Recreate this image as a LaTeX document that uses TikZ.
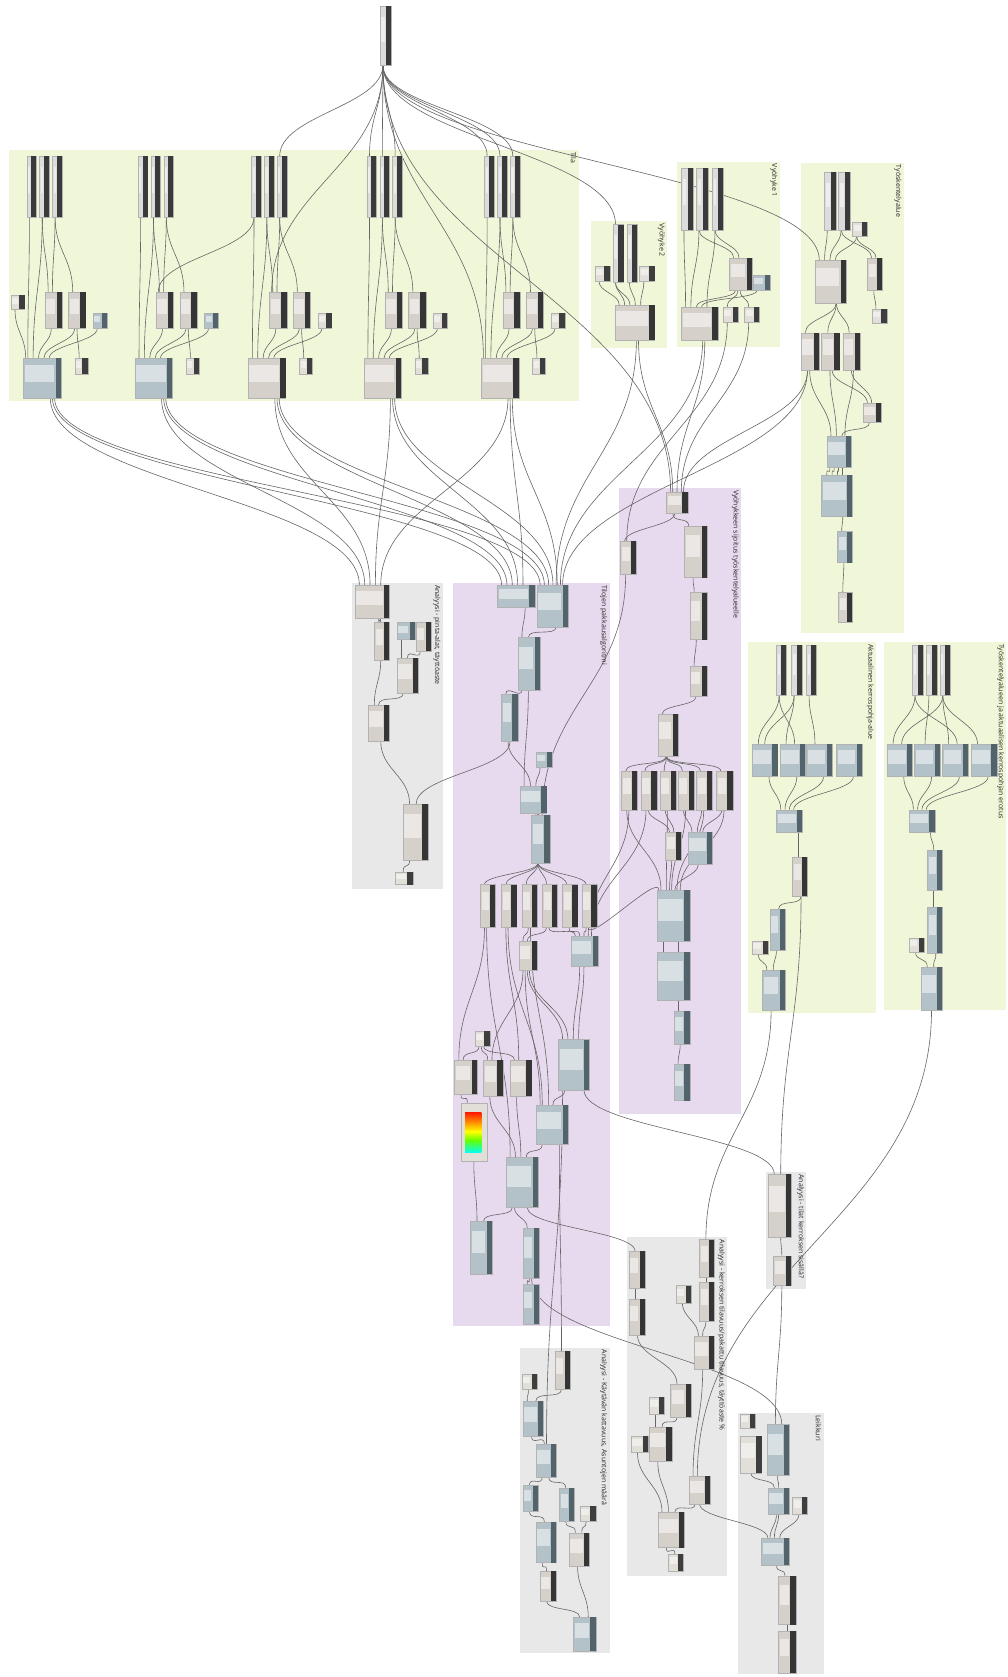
\documentclass[tikz,border=0pt]{standalone}
\usepackage{fontspec}
\setmainfont{Open Sans}
\usetikzlibrary{calc}
\pgfdeclarelayer{groups}
\pgfdeclarelayer{wires}
\pgfsetlayers{groups,wires,main}

% node palettes: body / header strip
\definecolor{slbody}{HTML}{DCDCDC}\definecolor{slhead}{HTML}{3A3A3A}
\definecolor{bnbody}{HTML}{D5D0C9}\definecolor{bnhead}{HTML}{353535}
\definecolor{gnbody}{HTML}{B3C2C8}\definecolor{gnhead}{HTML}{52636B}
\definecolor{lnbody}{HTML}{E2DED8}\definecolor{lnhead}{HTML}{3E3E3E}
% group backgrounds
\definecolor{grgreen}{HTML}{F0F7D8}
\definecolor{grpurple}{HTML}{E7D9EE}
\definecolor{grgray}{HTML}{E8E8E8}

\def\U{1.0701pt}

\tikzset{
  dnode/.style={draw=black!30, line width=0.25pt, inner sep=0pt, outer sep=0pt,
                anchor=north west, rectangle},
  wire/.style={draw=black!60, line width=0.6pt},
  gtitle/.style={font=\fontsize{7}{8}\selectfont, text=black!85, inner sep=0pt,
                 rotate=-90, anchor=north west}
}

% \dn{palette}{name}{x}{y}{w}{h}: node box with dark header strip on its right
\newcommand\dn[6]{%
  \pgfmathsetmacro\hwd{min(5,0.52*#5)}%
  \node[dnode, fill=#1body, minimum width=#5*\U, minimum height=#6*\U] (#2) at (#3,#4) {};
  \fill[#1head] ([xshift=-\hwd*\U]#2.north east) rectangle (#2.south east);
  \fill[white, opacity=0.5] ([xshift=1.2*\U, yshift=-0.18*#6*\U]#2.north west)
     rectangle ([xshift=-\hwd*\U-1.2*\U, yshift=0.4*#6*\U]#2.south east);
}

% \wire{from}{port offset}{to}{port offset}: output at bottom, input at top
\newcommand\wire[4]{%
  \draw[wire] let \p1=([xshift=(#2)*\U]#1.south west),
                  \p2=([xshift=(#4)*\U]#3.north west),
                  \n1={max(10,0.45*abs(\y1-\y2))} in
    (\p1) .. controls +(0pt,-\n1*1pt) and +(0pt,\n1*1pt) .. (\p2);
}

% \grp{colour}{x1}{y1}{x2}{y2}{title}
\newcommand\grp[6]{%
  \begin{pgfonlayer}{groups}\fill[#1] (#2,#3) rectangle (#4,#5);\end{pgfonlayer}
  \node[gtitle] at (#4-2,#3+2) {#6};
}

\begin{document}
\begin{tikzpicture}[x=1.0701pt,y=-1.0701pt]
\useasboundingbox (0,0) rectangle (942,1568);
\begin{pgfonlayer}{groups}\fill[white] (0,0) rectangle (942,1568);\end{pgfonlayer}

% ---------- groups ----------
\grp{grgreen}{8}{140}{541}{375}{Tila}
\grp{grgreen}{553}{207}{624}{325}{Vyöhyke 2}
\grp{grgreen}{633}{151}{729}{324}{Vyöhyke 1}
\grp{grgreen}{749}{152}{845}{592}{Työskentelyalue}
\grp{grgray}{329}{545}{414}{831}{Analyysi - pinta-alat, täyttöaste}
\grp{grpurple}{424}{545}{570}{1240}{Tilojen pakkausalgoritmi}
\grp{grpurple}{579}{456}{693}{1042}{Vyöhykkeen sijoitus työskentelyalueelle}
\grp{grgreen}{699}{600}{819}{947}{Aktuaalinen kerrospohja-alue}
\grp{grgreen}{827}{600}{941}{944}{Työskentelyalueen ja aktuaalisen kerrospohjan erotus}
\grp{grgray}{716}{1096}{754}{1205}{Analyysi - tilat kerroksen sisällä?}
\grp{grgray}{586}{1157}{680}{1474}{Analyysi - kerroksen tilavuus/pakattu tilavuus, täyttöaste \%}
\grp{grgray}{486}{1260}{570}{1546}{Analyysi - Käytävän kattavuus, Asuntojen määrä}
\grp{grgray}{690}{1321}{770}{1565}{Leikkuri}

% ---------- source ----------
\dn{sl}{T}{355}{6}{11}{55}

% ---------- Tila: five identical columns ----------
\foreach \X/\i/\k/\kc in {0/1/gn/gn,104/2/gn/gn,210/3/bn/ln,318/4/bn/ln,428/5/bn/ln}{
  \dn{sl}{c\i-t1}{25+\X}{146}{9}{57}
  \dn{sl}{c\i-t2}{37+\X}{146}{9}{57}
  \dn{sl}{c\i-t3}{49+\X}{146}{9}{57}
  \dn{bn}{c\i-A}{42+\X}{273}{16}{34}
  \dn{bn}{c\i-B}{64+\X}{273}{16}{34}
  \dn{\kc}{c\i-C}{87+\X}{293}{13}{14}
  \dn{\k}{c\i-D}{22+\X}{335}{35}{37}
  \dn{ln}{c\i-E}{70+\X}{335}{12}{15}
}
\dn{ln}{c1-S}{10}{276}{13}{13}

% ---------- Vyöhyke 2 ----------
\dn{sl}{vt1}{573}{210}{10}{54}
\dn{sl}{vt2}{586}{210}{10}{54}
\dn{ln}{vs1}{556}{249}{14}{14}
\dn{ln}{vs2}{598}{249}{14}{14}
\dn{bn}{vbig}{575}{285}{37}{33}

% ---------- Vyöhyke 1 ----------
\dn{sl}{wt1}{637}{157}{11}{58}
\dn{sl}{wt2}{651}{157}{11}{58}
\dn{sl}{wt3}{666}{157}{10}{58}
\dn{bn}{wm1}{682}{241}{21}{30}
\dn{gn}{wm2}{704}{257}{16}{14}
\dn{bn}{wbig}{637}{287}{34}{31}
\dn{ln}{ws3}{676}{287}{14}{14}
\dn{ln}{ws4}{696}{287}{14}{14}

% ---------- Työskentelyalue ----------
\dn{sl}{yt1}{771}{161}{11}{54}
\dn{sl}{yt2}{784}{161}{11}{54}
\dn{ln}{ys1}{797}{208}{14}{13}
\dn{bn}{ybig}{762}{243}{29}{40}
\dn{bn}{ym1}{811}{241}{14}{30}
\dn{ln}{ys2}{815}{289}{14}{13}
\dn{bn}{yr1}{749}{311}{17}{35}
\dn{bn}{yr2}{768}{311}{17}{35}
\dn{bn}{yr3}{788}{311}{16}{35}
\dn{bn}{ym2}{807}{377}{17}{18}
\dn{gn}{yb2}{773}{408}{23}{29}
\dn{gn}{yb3}{768}{444}{29}{39}
\dn{gn}{yb4}{783}{497}{14}{29}
\dn{bn}{yb5}{784}{554}{13}{28}

% ---------- Vyöhykkeen sijoitus ----------
\dn{bn}{v1}{623}{460}{20}{20}
\dn{bn}{v2}{580}{506}{15}{31}
\dn{bn}{v3}{640}{492}{21}{48}
\dn{bn}{v4}{645}{554}{16}{44}
\dn{bn}{v5}{645}{623}{16}{28}
\dn{bn}{v6}{615}{668}{19}{39}
\foreach \j/\xx in {1/581,2/599,3/617,4/634,5/651,6/670}{
  \dn{bn}{vr\j}{\xx}{721}{15}{36}
}
\dn{bn}{v7}{622}{778}{15}{26}
\dn{gn}{v8}{643}{778}{23}{30}
\dn{gn}{v9}{614}{832}{31}{48}
\dn{gn}{v10}{614}{890}{31}{45}
\dn{gn}{v11}{630}{945}{15}{31}
\dn{gn}{v12}{630}{995}{15}{34}

% ---------- Tilojen pakkausalgoritmi ----------
\dn{gn}{pp1}{465}{547}{35}{21}
\dn{gn}{pp2}{502}{547}{29}{39}
\dn{gn}{pp3}{484}{596}{21}{49}
\dn{gn}{pp4}{469}{649}{15}{44}
\dn{gn}{pp5}{501}{703}{15}{14}
\dn{gn}{pp6}{486}{735}{25}{25}
\dn{gn}{pp7}{497}{762}{17}{45}
\foreach \j/\xx in {1/449,2/469,3/488,4/507,5/526,6/544}{
  \dn{bn}{pr\j}{\xx}{827}{14}{40}
}
\dn{bn}{q1}{485}{880}{17}{27}
\dn{gn}{q2}{534}{875}{25}{28}
\dn{ln}{q3}{444}{964}{14}{14}
\dn{bn}{q4}{425}{991}{21}{32}
\dn{bn}{q5}{452}{991}{18}{34}
\dn{bn}{q6}{477}{991}{20}{34}
\dn{gn}{q7}{522}{972}{29}{47}
\node[dnode, fill=lnbody, minimum width=24*\U, minimum height=55*\U] (grad) at (431,1031) {};
\shade[top color=red!80!orange, bottom color=yellow] (435,1040) rectangle (450,1058);
\shade[top color=yellow, bottom color=green!60!yellow] (435,1058) rectangle (450,1066);
\shade[top color=green!60!yellow, bottom color=cyan] (435,1066) rectangle (450,1078);
\dn{gn}{q8}{501}{1033}{30}{37}
\dn{gn}{q9}{473}{1082}{30}{47}
\dn{gn}{q10}{440}{1142}{20}{49}
\dn{gn}{q11}{489}{1148}{15}{47}
\dn{gn}{q12}{489}{1201}{15}{37}

% ---------- Analyysi - pinta-alat ----------
\dn{bn}{pa1}{332}{547}{32}{31}
\dn{bn}{pa2}{350}{582}{14}{35}
\dn{gn}{pa3}{371}{582}{17}{16}
\dn{bn}{pa4}{389}{582}{14}{27}
\dn{bn}{pa5}{371}{615}{20}{33}
\dn{bn}{pa6}{344}{659}{20}{34}
\dn{bn}{pa7}{377}{752}{23}{52}
\dn{ln}{pa8}{369}{815}{17}{12}

% ---------- Aktuaalinen kerrospohja-alue ----------
\dn{sl}{k1}{726}{603}{9}{47}
\dn{sl}{k2}{740}{603}{10}{47}
\dn{sl}{k3}{754}{603}{9}{47}
\foreach \j/\xx in {1/703,2/729,3/754,4/782}{
  \dn{gn}{kb\j}{\xx}{696}{24}{30}
}
\dn{gn}{kc}{726}{757}{24}{21}
\dn{bn}{kd}{741}{801}{14}{37}
\dn{gn}{ke}{720}{850}{14}{38}
\dn{ln}{kf}{703}{880}{15}{12}
\dn{gn}{kg}{713}{907}{21}{37}

% ---------- Erotus ----------
\dn{sl}{j1}{853}{603}{10}{47}
\dn{sl}{j2}{866}{603}{10}{47}
\dn{sl}{j3}{879}{603}{9}{47}
\foreach \j/\xx in {1/829,2/855,3/881,4/908}{
  \dn{gn}{jb\j}{\xx}{696}{24}{30}
}
\dn{gn}{jc}{850}{757}{24}{21}
\dn{gn}{jd}{867}{795}{14}{37}
\dn{gn}{je}{867}{848}{14}{43}
\dn{ln}{jf}{850}{877}{14}{13}
\dn{gn}{jg}{861}{904}{20}{40}

% ---------- Analyysi - tilat ----------
\dn{bn}{tl1}{718}{1098}{22}{59}
\dn{bn}{tl2}{723}{1174}{17}{28}

% ---------- Analyysi - kerroksen tilavuus ----------
\dn{bn}{n1}{588}{1170}{15}{34}
\dn{bn}{n2}{588}{1215}{15}{33}
\dn{bn}{n3}{654}{1159}{14}{35}
\dn{bn}{n4}{654}{1199}{14}{36}
\dn{ln}{n5}{632}{1202}{14}{16}
\dn{bn}{n6}{649}{1249}{19}{31}
\dn{bn}{n7}{627}{1294}{19}{31}
\dn{ln}{n8}{607}{1306}{14}{16}
\dn{bn}{n9}{607}{1334}{21}{32}
\dn{ln}{n10}{590}{1343}{16}{15}
\dn{bn}{n11}{644}{1380}{20}{26}
\dn{bn}{n12}{615}{1414}{25}{33}
\dn{ln}{n13}{625}{1453}{14}{16}

% ---------- Analyysi - Käytävän kattavuus ----------
\dn{bn}{kk1}{519}{1263}{14}{36}
\dn{ln}{kk2}{488}{1285}{14}{14}
\dn{gn}{kk3}{489}{1310}{19}{33}
\dn{gn}{kk4}{501}{1350}{19}{31}
\dn{gn}{kk5}{489}{1389}{14}{24}
\dn{gn}{kk6}{523}{1391}{14}{31}
\dn{ln}{kk7}{542}{1408}{15}{14}
\dn{gn}{kk8}{501}{1423}{19}{38}
\dn{bn}{kk9}{532}{1433}{19}{31}
\dn{bn}{kk10}{505}{1469}{15}{28}
\dn{gn}{kk11}{536}{1512}{21}{32}

% ---------- Leikkuri ----------
\dn{ln}{L1}{692}{1322}{14}{13}
\dn{ln}{L2}{692}{1343}{20}{34}
\dn{gn}{L3}{717}{1332}{21}{47}
\dn{gn}{L4}{718}{1391}{20}{25}
\dn{ln}{L5}{741}{1400}{14}{16}
\dn{gn}{L6}{712}{1438}{26}{25}
\dn{bn}{L7}{728}{1474}{16}{45}
\dn{bn}{L8}{728}{1525}{16}{39}

% ================= connectors =================
\begin{pgfonlayer}{wires}
% Tila columns
\foreach \i in {1,...,5}{
  \wire{c\i-t1}{2.5}{c\i-D}{4}
  \wire{c\i-t2}{2.5}{c\i-D}{9}
  \wire{c\i-t2}{2.5}{c\i-A}{3}
  \wire{c\i-t3}{2.5}{c\i-A}{7}
  \wire{c\i-t3}{2.5}{c\i-B}{4}
  \wire{c\i-A}{6}{c\i-D}{14}
  \wire{c\i-B}{6}{c\i-D}{19}
  \wire{c\i-C}{4}{c\i-D}{24}
  \wire{c\i-B}{8}{c\i-E}{4}
  \wire{c\i-D}{25}{pa1}{4+5*(\i-1)}
  \wire{c\i-D}{27}{pp1}{4+5*(\i-1)}
  \wire{c\i-D}{29}{pp2}{3+4*(\i-1)}
}
\wire{c1-S}{4}{c1-D}{2}
% source fan
\wire{T}{3}{c3-t3}{2.5}
\wire{T}{3}{c3-A}{2}
\wire{c3-t1}{2.5}{c2-A}{2}
\wire{T}{3}{c4-t1}{2.5}
\wire{T}{3}{c4-t2}{2.5}
\wire{T}{3}{c4-t3}{2.5}
\wire{T}{3}{c5-t1}{2.5}
\wire{T}{3}{c5-t2}{2.5}
\wire{T}{3}{c5-t3}{2.5}
\wire{T}{3}{c5-D}{2}
\wire{T}{3}{vt1}{2.5}
\wire{T}{3}{v1}{4}
\wire{T}{3}{ybig}{4}
% Vyöhyke 2
\wire{vs1}{4}{vbig}{4}
\wire{vt1}{2.5}{vbig}{9}
\wire{vt1}{2.5}{vbig}{14}
\wire{vt2}{2.5}{vbig}{19}
\wire{vs2}{4}{vbig}{24}
\wire{vbig}{22}{v1}{6}
\wire{vbig}{20}{pp2}{18}
% Vyöhyke 1
\wire{wt1}{2.5}{wbig}{4}
\wire{wt2}{2.5}{wbig}{9}
\wire{wt2}{2.5}{wm1}{4}
\wire{wt3}{2.5}{wm1}{9}
\wire{wt3}{2.5}{wbig}{24}
\wire{wm1}{6}{wbig}{14}
\wire{wm2}{4}{wbig}{19}
\wire{wm1}{8}{ws3}{4}
\wire{wm1}{10}{ws4}{4}
\wire{wbig}{22}{v1}{10}
\wire{wbig}{20}{pp2}{22}
\wire{ws3}{4}{v2}{6}
\wire{ws4}{4}{v1}{14}
% Työskentelyalue
\wire{yt1}{2.5}{ybig}{9}
\wire{yt2}{2.5}{ybig}{14}
\wire{ys1}{4}{ybig}{19}
\wire{yt2}{2.5}{ym1}{4}
\wire{ys1}{4}{ym1}{8}
\wire{ym1}{6}{ys2}{4}
\wire{ybig}{20}{yr1}{4}
\wire{ybig}{20}{yr2}{6}
\wire{ybig}{20}{yr3}{6}
\wire{yr1}{8}{yb2}{4}
\wire{yr2}{8}{yb2}{9}
\wire{yr2}{10}{ym2}{4}
\wire{yr3}{8}{ym2}{8}
\wire{ym2}{6}{yb2}{14}
\wire{yr3}{10}{yb2}{17}
\wire{yb2}{3}{yb3}{5}
\wire{yb2}{7}{yb3}{10}
\wire{yb2}{11}{yb3}{15}
\wire{yb2}{15}{yb3}{20}
\wire{yb3}{20}{yb4}{4}
\wire{yb4}{6}{yb5}{4}
\wire{yr1}{6}{pp2}{24}
\wire{yr1}{6}{v1}{16}
% Vyöhykkeen sijoitus
\wire{v1}{6}{v3}{4}
\wire{v1}{8}{v2}{4}
\wire{v3}{8}{v4}{4}
\wire{v4}{6}{v5}{4}
\wire{v5}{6}{v6}{4}
\foreach \j in {1,...,6}{\wire{v6}{8}{vr\j}{4}}
\wire{vr1}{5}{v9}{4}
\wire{vr1}{7}{q2}{16}
\wire{vr2}{5}{q2}{19}
\wire{vr2}{7}{v7}{4}
\wire{vr3}{5}{v7}{8}
\wire{vr3}{7}{v9}{9}
\wire{vr4}{5}{v8}{4}
\wire{vr4}{7}{v9}{14}
\wire{vr5}{5}{v8}{9}
\wire{vr5}{7}{v9}{19}
\wire{vr6}{5}{v8}{14}
\wire{vr6}{7}{v9}{22}
\wire{v7}{6}{v9}{12}
\wire{v8}{10}{v9}{17}
\wire{v9}{6}{v10}{6}
\wire{v9}{20}{v10}{20}
\wire{v10}{20}{v11}{4}
\wire{v11}{6}{v12}{4}
\wire{v2}{5}{pp7}{10}
\wire{pr6}{6}{v9}{2}
% Tilojen pakkausalgoritmi
\wire{pp1}{26}{pp3}{4}
\wire{pp2}{18}{pp3}{10}
\wire{pp3}{4}{pp4}{4}
\wire{pp3}{10}{pp6}{4}
\wire{pp4}{6}{pp6}{10}
\wire{pp5}{4}{pp6}{15}
\wire{pp6}{18}{pp7}{4}
\foreach \j in {1,...,6}{\wire{pp7}{6}{pr\j}{4}}
\wire{pr1}{4}{q4}{4}
\wire{pr1}{6}{q9}{4}
\wire{pr2}{4}{q6}{8}
\wire{pr2}{6}{q8}{6}
\wire{pr3}{6}{q1}{4}
\wire{pr3}{8}{q8}{12}
\wire{pr4}{4}{q1}{8}
\wire{pr4}{6}{q2}{4}
\wire{pr5}{6}{q2}{8}
\wire{pr6}{4}{q2}{12}
\wire{q1}{4}{q5}{8}
\wire{q1}{6}{q8}{4}
\wire{q1}{8}{q7}{4}
\wire{q1}{10}{q7}{9}
\wire{q2}{8}{q7}{14}
\wire{q2}{12}{q7}{19}
\wire{q3}{4}{q4}{8}
\wire{q3}{6}{q5}{4}
\wire{q3}{8}{q6}{4}
\wire{q4}{6}{grad}{6}
\wire{q5}{6}{q9}{9}
\wire{q6}{6}{q9}{14}
\wire{q7}{6}{q8}{16}
\wire{q8}{6}{q9}{19}
\wire{grad}{12}{q10}{6}
\wire{q9}{6}{q10}{12}
\wire{q9}{8}{q11}{4}
\wire{q11}{6}{q12}{4}
\wire{q7}{24}{tl1}{6}
\wire{q9}{20}{n1}{6}
\wire{q11}{8}{L3}{14}
\wire{q8}{22}{kk1}{6}
\wire{q7}{4}{kk4}{10}
% Analyysi - pinta-alat
\wire{pa1}{22}{pa2}{6}
\wire{pa3}{4}{pa5}{4}
\wire{pa4}{4}{pa5}{10}
\wire{pa2}{6}{pa6}{6}
\wire{pa5}{6}{pa6}{10}
\wire{pa6}{12}{pa7}{6}
\wire{pp4}{8}{pa7}{12}
\wire{pa7}{6}{pa8}{8}
% Aktuaalinen kerrospohja-alue
\wire{k1}{2.5}{kb1}{6}
\wire{k1}{2.5}{kb2}{14}
\wire{k2}{2.5}{kb1}{12}
\wire{k2}{2.5}{kb2}{6}
\wire{k3}{2.5}{kb3}{8}
\foreach \j/\pt in {1/4,2/8,3/12,4/16}{\wire{kb\j}{16}{kc}{\pt}}
\wire{kc}{20}{kd}{5}
\wire{kd}{8}{ke}{8}
\wire{kd}{8}{tl1}{12}
\wire{kf}{6}{kg}{4}
\wire{ke}{6}{kg}{10}
\wire{kg}{8}{n3}{6}
% Erotus
\wire{j1}{2.5}{jb1}{6}
\wire{j1}{2.5}{jb3}{14}
\wire{j2}{2.5}{jb2}{10}
\wire{j3}{2.5}{jb1}{14}
\wire{j3}{2.5}{jb4}{6}
\wire{j3}{2.5}{jb3}{6}
\foreach \j/\pt in {1/4,2/8,3/12,4/16}{\wire{jb\j}{16}{jc}{\pt}}
\wire{jc}{20}{jd}{6}
\wire{jd}{6}{je}{6}
\wire{je}{8}{jg}{12}
\wire{jf}{6}{jg}{6}
\wire{jg}{10}{n11}{8}
% Analyysi - tilat
\wire{tl1}{12}{tl2}{8}
\wire{tl2}{8}{L3}{8}
% Analyysi - kerroksen tilavuus
\wire{n1}{6}{n2}{6}
\wire{n3}{6}{n4}{6}
\wire{n4}{6}{n6}{8}
\wire{n5}{6}{n6}{4}
\wire{n2}{8}{n7}{6}
\wire{n6}{8}{n11}{4}
\wire{n8}{6}{n9}{6}
\wire{n7}{6}{n9}{12}
\wire{n10}{6}{n12}{4}
\wire{n9}{8}{n12}{10}
\wire{n11}{6}{n12}{16}
\wire{n12}{8}{n13}{6}
\wire{n11}{10}{L6}{6}
% Analyysi - Käytävän kattavuus
\wire{kk2}{6}{kk3}{4}
\wire{kk1}{6}{kk3}{12}
\wire{kk3}{8}{kk4}{8}
\wire{kk4}{6}{kk5}{6}
\wire{kk4}{12}{kk6}{6}
\wire{kk5}{6}{kk8}{8}
\wire{kk6}{6}{kk9}{6}
\wire{kk7}{6}{kk9}{12}
\wire{kk8}{6}{kk10}{6}
\wire{kk10}{6}{kk11}{6}
\wire{kk9}{8}{kk11}{14}
% Leikkuri
\wire{L2}{10}{L4}{6}
\wire{L3}{10}{L4}{10}
\wire{L4}{8}{L6}{8}
\wire{L4}{10}{L6}{12}
\wire{L5}{6}{L6}{17}
\wire{L6}{14}{L7}{6}
\wire{L7}{8}{L8}{8}
\end{pgfonlayer}
\end{tikzpicture}
\end{document}
